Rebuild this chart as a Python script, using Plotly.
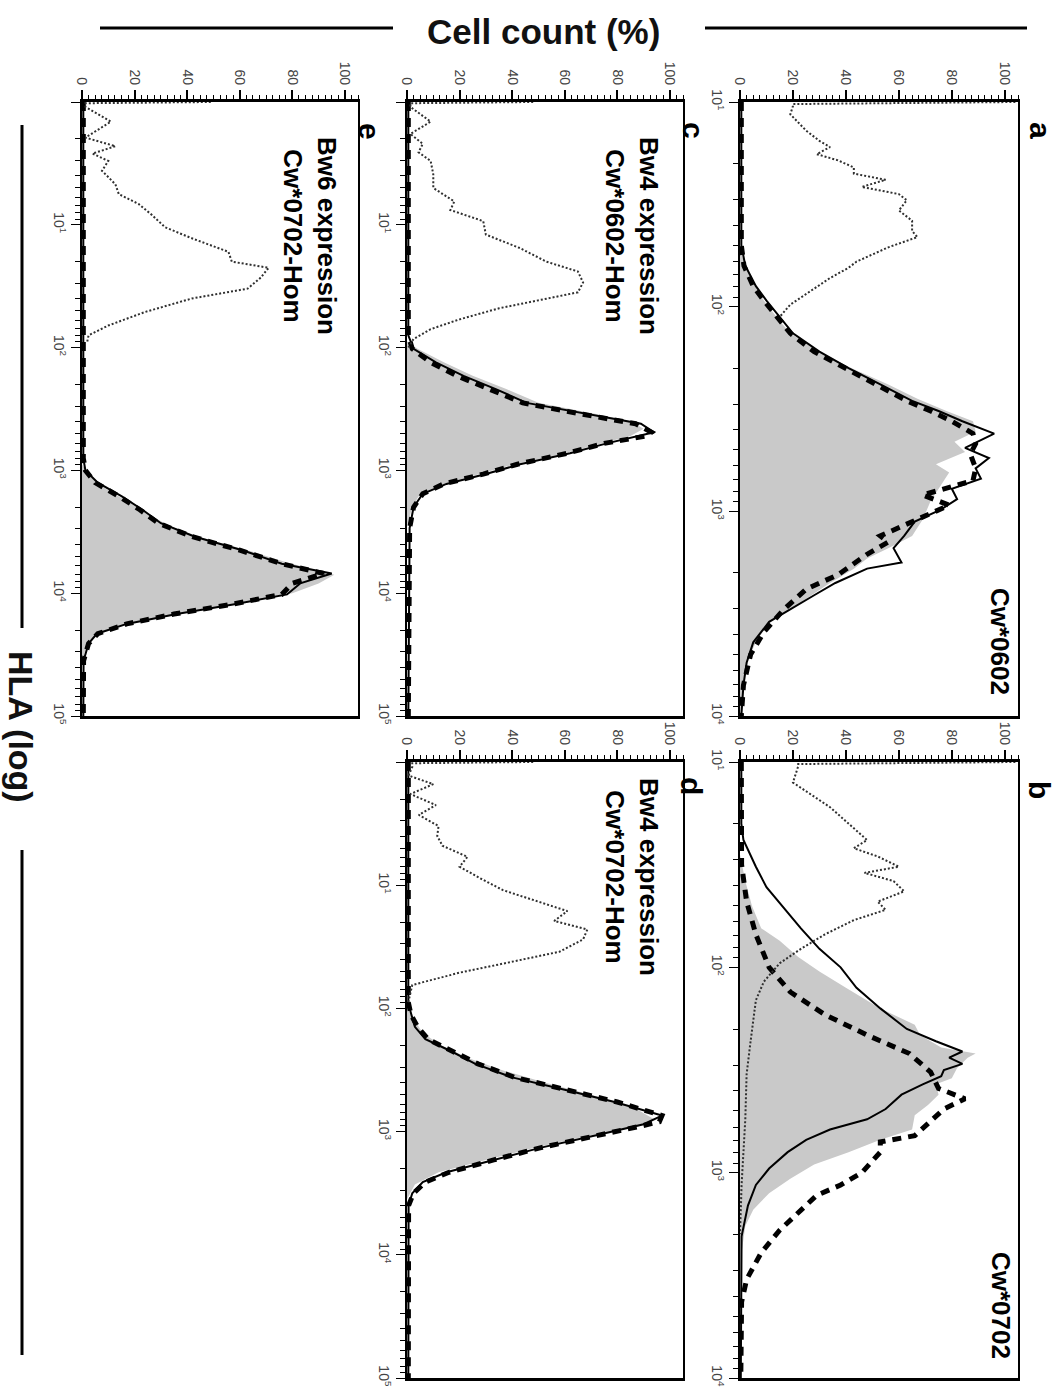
import plotly.graph_objects as go

W, H = 1061, 1388

# ---------------- data (log10 of HLA fluorescence, cell count %) ----------------
# Panel a : Cw*0602
a_gray_log = [1.0, 1.7, 1.74, 1.80, 1.86, 1.92, 1.97, 2.02, 2.07, 2.13, 2.22, 2.30, 2.38, 2.45, 2.51, 2.56, 2.61,
              2.66, 2.71, 2.77, 2.81, 2.87, 2.95, 3.04, 3.12, 3.18, 3.23, 3.28, 3.35, 3.41, 3.48, 3.54, 3.64, 3.74,
              3.85, 3.98, 4.0]
a_gray = [0, 0, 0.5, 2, 4.4, 6.5, 9, 12, 15, 19, 30, 42, 56, 67, 78, 88, 89, 81, 85, 74, 79, 76, 72, 69, 65, 56, 48,
          43, 34, 27, 19, 11, 6, 2.5, 1.3, 0.6, 0.5]
a_solid_log = [1.0, 1.7, 1.8, 1.9, 1.97, 2.05, 2.13, 2.22, 2.30, 2.38, 2.46, 2.51, 2.56, 2.62, 2.69, 2.74, 2.79, 2.84,
               2.89, 2.94, 2.99, 3.05, 3.12, 3.18, 3.25, 3.28, 3.35, 3.41, 3.48, 3.54, 3.64, 3.74, 3.85, 4.0]
a_solid = [0.5, 0.5, 2, 6, 10, 15, 20, 30, 41, 53, 65, 75, 84, 96, 85, 94, 89, 91, 80, 82, 76, 66, 62, 58, 61, 48, 36,
           28, 19, 11, 5, 2.5, 1.3, 0.5]
a_dash_log = [1.0, 1.7, 1.8, 1.9, 1.97, 2.05, 2.13, 2.22, 2.30, 2.38, 2.46, 2.51, 2.56, 2.62, 2.67, 2.72, 2.79, 2.85,
              2.92, 2.97, 3.02, 3.07, 3.12, 3.15, 3.21, 3.31, 3.38, 3.48, 3.59, 3.70, 3.85, 4.0]
a_dash = [0.5, 0.5, 1.5, 5, 9, 14, 19, 28, 40, 52, 63, 72, 80, 88, 89, 87, 89, 88, 69, 79, 70, 62, 53, 56, 48, 37, 25,
          16.5, 9, 4, 1.3, 0.5]
a_iso_log = [1.0, 1.01, 1.02, 1.06, 1.14, 1.19, 1.22, 1.255, 1.285, 1.32, 1.35, 1.38, 1.415, 1.45, 1.48, 1.53, 1.58,
             1.63, 1.66, 1.71, 1.78, 1.81, 1.86, 1.92, 1.99, 2.05]
a_iso = [104, 20, 20, 19, 25, 30, 34, 29, 37, 43, 43, 55, 46, 60, 63, 60, 65, 65, 67, 56, 44, 41, 34, 27, 19, 15]

# Panel b : Cw*0702
b_gray_log = [1.0, 1.45, 1.58, 1.70, 1.81, 1.87, 1.95, 2.02, 2.10, 2.20, 2.28, 2.33, 2.39, 2.42, 2.44, 2.49, 2.54,
              2.57, 2.62, 2.67, 2.72, 2.79, 2.84, 2.90, 2.96, 3.03, 3.10, 3.18, 3.26, 3.39, 4.0]
b_gray = [0, 0, 2, 4.5, 8, 15, 22, 30, 40, 53, 66, 68, 76, 89, 86, 82, 80, 74, 75, 71, 66, 65, 53, 41, 28, 19, 11, 5,
          2, 0.6, 0.3]
b_solid_log = [1.0, 1.3, 1.38, 1.51, 1.61, 1.71, 1.81, 1.91, 2.0, 2.10, 2.20, 2.30, 2.36, 2.41, 2.44, 2.47, 2.50,
               2.53, 2.57, 2.62, 2.69, 2.74, 2.79, 2.84, 2.90, 2.98, 3.06, 3.16, 3.31, 4.0]
b_solid = [0.5, 0.5, 1.3, 6, 10, 16.5, 23, 30, 38, 44, 53, 63, 74, 84, 79, 84, 77, 76, 69, 61, 55, 48, 34, 25, 18, 11,
           6, 3, 0.6, 0.3]
b_dash_log = [1.0, 1.5, 1.68, 1.84, 2.0, 2.12, 2.23, 2.33, 2.42, 2.51, 2.59, 2.64, 2.69, 2.77, 2.82, 2.85, 2.90, 3.0,
              3.06, 3.11, 3.18, 3.28, 3.39, 3.52, 3.63, 4.0]
b_dash = [0.5, 0.6, 2.5, 6, 11, 19, 32, 48, 64, 72, 75, 85, 77, 70, 66, 53, 53, 46, 38, 29, 23, 15, 8, 2.5, 0.6, 0.3]
b_iso_log = [1.0, 1.01, 1.02, 1.10, 1.22, 1.32, 1.38, 1.42, 1.46, 1.51, 1.54, 1.58, 1.63, 1.68, 1.72, 1.77, 1.84,
             1.91, 1.98, 2.07, 2.16, 2.36, 2.52, 2.74, 3.06, 3.3]
b_iso = [104, 22, 22, 20, 34, 43, 48, 43, 52, 60, 47, 58, 62, 52, 55, 43, 32, 23, 15, 9, 6, 4, 2.5, 2, 0.6, 0]

# Panel c : Bw4 expression, Cw*0602-Hom
c_gray_log = [1.95, 2.01, 2.12, 2.23, 2.34, 2.45, 2.54, 2.60, 2.66, 2.72, 2.78, 2.86, 2.95, 3.03, 3.11, 3.19, 3.30,
              3.45]
c_gray = [0, 4, 14, 25, 38, 50, 72, 85, 90, 85, 74, 60, 41, 28, 14, 5, 2, 0]
c_solid_log = [0, 1.9, 2.01, 2.12, 2.23, 2.34, 2.45, 2.54, 2.62, 2.69, 2.78, 2.86, 2.95, 3.03, 3.11, 3.19, 3.30, 3.47,
               5.0]
c_solid = [0.5, 0.5, 2.5, 11, 21.5, 34, 45.5, 68, 89, 94, 76, 62, 43, 30, 15, 6, 2.5, 1, 0.5]
c_dash_log = [0, 1.9, 2.01, 2.12, 2.23, 2.34, 2.45, 2.54, 2.62, 2.69, 2.72, 2.78, 2.86, 2.95, 3.03, 3.11, 3.19, 3.30,
              3.47, 5.0]
c_dash = [0.5, 0.5, 2, 9, 19, 31, 44, 66, 87, 93, 91, 75, 61, 42, 29, 14, 6, 2.5, 1, 0.5]
c_iso_log = [0.0, 0.01, 0.04, 0.16, 0.26, 0.34, 0.41, 0.48, 0.59, 0.70, 0.81, 0.88, 0.97, 1.08, 1.19, 1.30, 1.38,
             1.47, 1.55, 1.60, 1.68, 1.77, 1.85, 1.93, 2.0]
c_iso = [48, 1.3, 1.3, 9, 1.3, 6, 4.4, 9, 10, 10, 18, 16.5, 29, 30, 43, 53, 65, 67, 65, 53, 35, 20, 9, 2.5, 0.5]

# Panel d : Bw4 expression, Cw*0702-Hom
d_gray_log = [2.0, 2.1, 2.2, 2.3, 2.4, 2.5, 2.6, 2.7, 2.8, 2.9, 2.96, 3.03, 3.13, 3.23, 3.33, 3.43, 3.55]
d_gray = [0, 3, 6, 13, 23, 36, 52, 70, 86, 94, 88, 70, 49, 30, 12, 3, 0]
d_solid_log = [0, 1.95, 2.0, 2.15, 2.25, 2.35, 2.45, 2.56, 2.66, 2.76, 2.87, 2.94, 3.03, 3.13, 3.23, 3.33, 3.41, 3.50,
               3.60, 5.0]
d_solid = [0.5, 0.5, 1, 3, 7, 17, 26, 40, 60, 79, 97, 90, 72, 51, 33, 15, 6, 2, 0.6, 0.5]
d_dash_log = [0, 1.95, 2.05, 2.15, 2.25, 2.35, 2.45, 2.56, 2.66, 2.76, 2.87, 2.92, 2.96, 3.03, 3.13, 3.23, 3.33, 3.41,
              3.50, 3.60, 5.0]
d_dash = [0.5, 0.5, 1.5, 4, 8, 18, 27, 41, 61, 80, 97, 96, 88, 72, 51, 33, 16, 7, 2.5, 0.6, 0.5]
d_iso_log = [0, 0.01, 0.04, 0.11, 0.18, 0.26, 0.35, 0.43, 0.52, 0.60, 0.68, 0.77, 0.85, 0.94, 1.04, 1.12, 1.21, 1.29,
             1.36, 1.44, 1.54, 1.63, 1.71, 1.81, 1.88, 1.95]
d_iso = [48, 2, 2, 0.6, 10, 1.3, 11, 4.5, 12, 11.5, 13.5, 23, 20, 27.5, 36.5, 48, 61, 56, 68.6, 67, 58, 38, 20, 2, 1.3,
         0.5]

# Panel e : Bw6 expression, Cw*0702-Hom
e_gray_log = [2.95, 3.05, 3.15, 3.25, 3.35, 3.45, 3.55, 3.65, 3.75, 3.85, 3.92, 4.0, 4.08, 4.16, 4.24, 4.32, 4.42,
              4.55]
e_gray = [0, 3, 9, 17, 25, 33, 46, 63, 78, 96, 90, 80, 62, 40, 20, 7, 2, 0]
e_solid_log = [0, 2.9, 3.0, 3.10, 3.21, 3.32, 3.43, 3.54, 3.65, 3.76, 3.84, 3.92, 4.01, 4.09, 4.17, 4.25, 4.33, 4.41,
               4.55, 5.0]
e_solid = [0.5, 0.5, 1.3, 6, 15, 23, 30, 43, 61, 76, 95, 83, 78, 58, 36, 17, 5.7, 2.5, 0.6, 0.5]
e_dash_log = [0, 2.9, 3.0, 3.10, 3.21, 3.32, 3.43, 3.54, 3.65, 3.76, 3.84, 3.88, 3.92, 4.01, 4.09, 4.17, 4.25, 4.33,
              4.41, 4.55, 5.0]
e_dash = [0.5, 0.5, 1.3, 5, 14, 22, 29, 42, 60, 76, 92, 86, 80, 76, 57, 35, 17, 6, 2.5, 0.6, 0.5]
e_iso_log = [0, 0.01, 0.04, 0.16, 0.29, 0.36, 0.42, 0.48, 0.56, 0.67, 0.75, 0.83, 0.92, 1.02, 1.11, 1.22, 1.30, 1.35,
             1.43, 1.52, 1.60, 1.71, 1.82, 1.90, 1.95]
e_iso = [49, 1.3, 1.3, 11, 1.3, 12.7, 4, 10, 7.6, 12.7, 14, 21.5, 26.6, 31.6, 41.8, 55.7, 57, 71, 68, 63, 41.8, 24, 10,
         2.5, 2]

panel_letters = ["a", "b", "c", "d", "e"]
panel_titles = ["Cw*0602", "Cw*0702", "Bw4 expression<br>Cw*0602-Hom", "Bw4 expression<br>Cw*0702-Hom",
                "Bw6 expression<br>Cw*0702-Hom"]
count_ticks = [0, 20, 40, 60, 80, 100]

# ---------------- layout geometry (pixels) ----------------
boxes = {  # x0, x1, y0(top), y1(bottom)
    "a": (740, 1018, 102, 716),
    "b": (740, 1018, 762, 1378),
    "c": (407, 683, 102, 716),
    "d": (407, 683, 762, 1378),
    "e": (82, 358, 102, 716),
}
log_ranges = {"a": (1, 4), "b": (1, 4), "c": (0, 5), "d": (0, 5), "e": (0, 5)}
series = {
    "a": (a_gray_log, a_gray, a_solid_log, a_solid, a_dash_log, a_dash, a_iso_log, a_iso),
    "b": (b_gray_log, b_gray, b_solid_log, b_solid, b_dash_log, b_dash, b_iso_log, b_iso),
    "c": (c_gray_log, c_gray, c_solid_log, c_solid, c_dash_log, c_dash, c_iso_log, c_iso),
    "d": (d_gray_log, d_gray, d_solid_log, d_solid, d_dash_log, d_dash, d_iso_log, d_iso),
    "e": (e_gray_log, e_gray, e_solid_log, e_solid, e_dash_log, e_dash, e_iso_log, e_iso),
}
letter_pos = {"a": (1040, 130), "b": (1040, 790), "c": (693, 130), "d": (692, 786), "e": (370, 131)}
title_pos = {"a": (1000, 641), "b": (1001, 1305), "c": (632, 236), "d": (632, 877), "e": (310, 236)}

FONT = "Liberation Sans, Arial, Helvetica, sans-serif"


def px(x):
    return x / W


def py(y):
    return 1 - y / H


def hla(logs):
    return [10 ** v for v in logs]


fig = go.Figure()
layout = dict(
    width=W, height=H, margin=dict(l=0, r=0, t=0, b=0),
    paper_bgcolor="white", plot_bgcolor="white", showlegend=False,
    annotations=[], shapes=[],
)

for i, key in enumerate(panel_letters):
    n = "" if i == 0 else str(i + 1)
    xa, ya = "x" + n, "y" + n
    x0, x1, y0, y1 = boxes[key]
    glog, gval, slog, sval, dlog, dval, ilog, ival = series[key]

    fig.add_trace(go.Scatter(x=gval, y=hla(glog), xaxis=xa, yaxis=ya, mode="lines",
                             line=dict(width=0, color="#c8c8c8"), fill="tozerox",
                             fillcolor="#c9c9c9", hoverinfo="skip"))
    fig.add_trace(go.Scatter(x=sval, y=hla(slog), xaxis=xa, yaxis=ya, mode="lines",
                             line=dict(width=2, color="black")))
    fig.add_trace(go.Scatter(x=dval, y=hla(dlog), xaxis=xa, yaxis=ya, mode="lines",
                             line=dict(width=5, color="black", dash="9px,7px")))
    fig.add_trace(go.Scatter(x=ival, y=hla(ilog), xaxis=xa, yaxis=ya, mode="lines",
                             line=dict(width=2, color="#303030", dash="2px,2px")))

    lo, hi = log_ranges[key]
    major = [10 ** p for p in range(lo, hi + 1)]
    major_text = ["" if p == 0 else "10<sup>%d</sup>" % p for p in range(lo, hi + 1)]
    minor = [k * 10 ** p for p in range(lo, hi) for k in range(2, 10)]

    layout["xaxis" + n] = dict(
        domain=[px(x0), px(x1)], anchor=ya, side="top", range=[0, 105],
        tickmode="array", tickvals=count_ticks, ticktext=[str(t) for t in count_ticks],
        ticks="outside", ticklen=9, tickwidth=1.5, tickcolor="black", tickangle=90,
        tickfont=dict(family=FONT, size=14, color="#444"),
        minor=dict(ticks="outside", ticklen=4, tickwidth=1, tickcolor="black", tick0=0, dtick=2.5,
                   showgrid=False),
        showline=True, linewidth=3, linecolor="black", mirror=True,
        showgrid=False, zeroline=False, automargin=False, fixedrange=True,
    )
    layout["yaxis" + n] = dict(
        domain=[py(y1), py(y0)], anchor=xa, type="log", range=[hi, lo],
        tickmode="array", tickvals=major, ticktext=major_text,
        ticks="outside", ticklen=9, tickwidth=1.2, tickcolor="black", tickangle=90,
        tickfont=dict(family=FONT, size=14, color="#444"),
        minor=dict(tickmode="array", tickvals=minor, ticks="outside", ticklen=5, tickwidth=1,
                   tickcolor="black", showgrid=False),
        showline=True, linewidth=1.5, linecolor="black", mirror=True,
        showgrid=False, zeroline=False, automargin=False, fixedrange=True,
    )

    lx, ly = letter_pos[key]
    layout["annotations"].append(dict(
        x=px(lx), y=py(ly), xref="paper", yref="paper", text="<b>%s</b>" % key, showarrow=False,
        textangle=90, font=dict(family=FONT, size=30, color="black"), xanchor="center", yanchor="middle"))
    tx, ty = title_pos[key]
    layout["annotations"].append(dict(
        x=px(tx), y=py(ty), xref="paper", yref="paper", text="<b>%s</b>" % panel_titles[i], showarrow=False,
        textangle=90, font=dict(family=FONT, size=26, color="black"), xanchor="center", yanchor="middle"))

# figure-level axis titles with flanking rules
layout["annotations"].append(dict(
    x=px(543), y=py(31), xref="paper", yref="paper", text="<b>Cell count (%)</b>", showarrow=False,
    font=dict(family=FONT, size=35, color="#111"), xanchor="center", yanchor="middle"))
layout["annotations"].append(dict(
    x=px(21), y=py(727), xref="paper", yref="paper", text="<b>HLA (log)</b>", showarrow=False, textangle=90,
    font=dict(family=FONT, size=34, color="#111"), xanchor="center", yanchor="middle"))

for (xa0, ya0, xa1, ya1) in [(100, 28, 393, 28), (705, 28, 1027, 28), (22, 125, 22, 628), (22, 850, 22, 1355)]:
    layout["shapes"].append(dict(type="line", xref="paper", yref="paper", x0=px(xa0), y0=py(ya0),
                                 x1=px(xa1), y1=py(ya1), line=dict(color="black", width=3)))

fig.update_layout(**layout)
fig.write_html("out.html")
